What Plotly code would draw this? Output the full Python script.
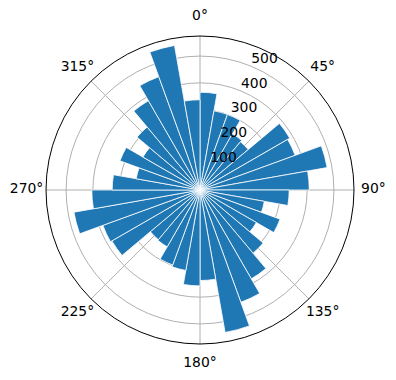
import plotly.graph_objects as go

# bin start angles (degrees, clockwise from north) and bin width
bin_starts = list(range(0, 360, 10))
bin_width = 10
counts = [365, 300, 300, 242, 235, 387, 378, 482, 408,
          333, 244, 318, 243, 308, 383, 446, 540, 338,
          358, 305, 298, 245, 242, 380, 386, 478, 404,
          328, 242, 318, 246, 307, 385, 450, 548, 337]
radial_ticks = [100, 200, 300, 400, 500]
radial_label_angle = 22.5
angle_ticks = [0, 45, 90, 135, 180, 225, 270, 315]
angle_labels = [f"{a}°" for a in angle_ticks]
r_max = 575

theta = [s + bin_width / 2 for s in bin_starts]

W, H = 396, 380
cx, cy, R = 200, 190, 154
label_gap = 19.5          # px from outer circle to centre of angle labels
R2 = R + label_gap

fig = go.Figure()
fig.add_trace(go.Barpolar(
    r=counts, theta=theta, width=[bin_width] * len(counts),
    marker=dict(color="#1f77b4", line=dict(color="white", width=0.8)),
    showlegend=False, hoverinfo="skip",
))
# radial tick labels, anchored bottom-left at each ring (as matplotlib does)
fig.add_trace(go.Scatterpolar(
    r=radial_ticks, theta=[radial_label_angle] * len(radial_ticks),
    mode="text", text=[str(v) for v in radial_ticks],
    textposition="top right", marker=dict(size=1),
    textfont=dict(family="DejaVu Sans", size=13.9, color="black"),
    showlegend=False, hoverinfo="skip", cliponaxis=False,
))
# angular tick labels on a transparent, slightly larger polar subplot
fig.add_trace(go.Scatterpolar(
    r=[r_max] * len(angle_ticks), theta=angle_ticks,
    mode="text", text=angle_labels, subplot="polar2",
    textposition="middle center",
    textfont=dict(family="DejaVu Sans", size=13.9, color="black"),
    showlegend=False, hoverinfo="skip", cliponaxis=False,
))

fig.update_layout(
    width=W, height=H,
    margin=dict(l=0, r=0, t=0, b=0),
    paper_bgcolor="white",
    font=dict(family="DejaVu Sans", size=13.9, color="black"),
    polar=dict(
        domain=dict(x=[(cx - R) / W, (cx + R) / W],
                    y=[1 - (cy + R) / H, 1 - (cy - R) / H]),
        bgcolor="white",
        angularaxis=dict(
            rotation=90, direction="clockwise",
            tickmode="array", tickvals=angle_ticks,
            showticklabels=False, ticks="",
            showgrid=True, gridcolor="#b0b0b0", gridwidth=0.8,
            showline=True, linecolor="black", linewidth=1,
            layer="above traces",
        ),
        radialaxis=dict(
            range=[0, r_max], angle=67.5,
            tickmode="array", tickvals=radial_ticks,
            showticklabels=False,
            showgrid=True, gridcolor="#b0b0b0", gridwidth=0.8,
            showline=False, ticks="",
            layer="above traces",
        ),
    ),
    polar2=dict(
        domain=dict(x=[(cx - R2) / W, (cx + R2) / W],
                    y=[1 - (cy + R2) / H, 1 - (cy - R2) / H]),
        bgcolor="rgba(0,0,0,0)",
        angularaxis=dict(
            rotation=90, direction="clockwise",
            showticklabels=False, ticks="", showgrid=False, showline=False,
        ),
        radialaxis=dict(
            range=[0, r_max * 1.0005], showticklabels=False, ticks="",
            showgrid=False, showline=False,
        ),
    ),
)

fig.write_html("out.html")
